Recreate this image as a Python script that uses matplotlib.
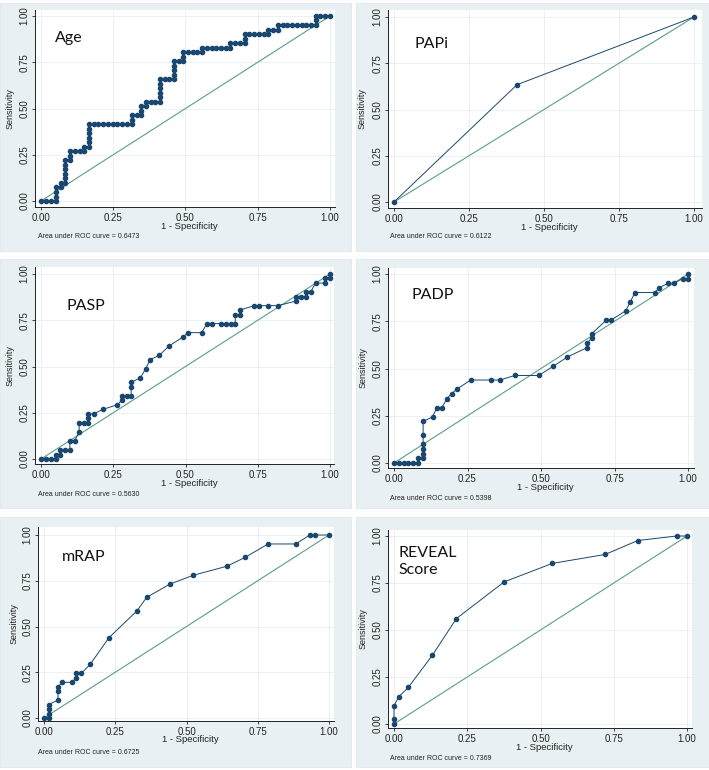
import matplotlib.pyplot as plt
from matplotlib.patches import Rectangle

W, H = 709, 770

# ROC points (1 - specificity, sensitivity)
age_fpr = [0, .017, .035, .053, .053, .053, .053, .068, .068, .084, .084, .084, .084, .084, .084,
           .100, .100, .100, .118, .135, .150, .150, .165, .165, .165, .165, .165, .165,
           .182, .198, .215, .231, .248, .264, .280, .297, .315, .315, .315, .331, .347, .347, .347,
           .363, .363, .380, .396, .412, .412, .412, .412, .412, .412, .428, .444, .460, .460, .460,
           .460, .460, .476, .492, .492, .492, .508, .525, .541, .557, .557, .573, .590, .606, .622,
           .639, .655, .655, .672, .688, .705, .705, .705, .721, .738, .754, .770, .787, .787, .803,
           .820, .820, .836, .852, .869, .885, .902, .918, .934, .951, .951, .951, .967, .984, 1.0]
age_tpr = [0, 0, 0, 0, .024, .049, .073, .073, .098, .098, .122, .146, .171, .195, .220,
           .220, .244, .268, .268, .268, .268, .293, .293, .317, .341, .366, .390, .415,
           .415, .415, .415, .415, .415, .415, .415, .415, .415, .439, .463, .463, .463, .488, .512,
           .512, .537, .537, .537, .537, .561, .585, .610, .634, .659, .659, .659, .659, .683, .707,
           .732, .756, .756, .756, .780, .805, .805, .805, .805, .805, .829, .829, .829, .829, .829,
           .829, .829, .854, .854, .854, .854, .878, .902, .902, .902, .902, .902, .902, .927, .927,
           .927, .951, .951, .951, .951, .951, .951, .951, .951, .951, .976, 1.0, 1.0, 1.0, 1.0]

papi_fpr = [0, 0.41, 1.0]
papi_tpr = [0, 0.634, 1.0]

pasp_fpr = [0, .017, .035, .052, .052, .067, .067, .084, .100, .100, .116, .132, .132, .148, .164,
            .164, .164, .182, .214, .263, .280, .280, .297, .312, .312, .312, .344, .362, .378,
            .410, .442, .491, .508, .556, .574, .590, .623, .639, .656, .672, .672, .688, .688,
            .738, .755, .787, .820, .883, .883, .900, .916, .916, .933, .950, .983, .983, 1.0, 1.0]
pasp_tpr = [0, 0, 0, 0, .024, .024, .049, .049, .049, .098, .098, .146, .195, .195, .195,
            .220, .244, .244, .268, .293, .317, .341, .341, .341, .390, .415, .439, .488, .537,
            .561, .610, .659, .683, .683, .732, .732, .732, .732, .732, .732, .780, .780, .805,
            .829, .829, .829, .829, .854, .878, .878, .878, .902, .902, .951, .951, .976, .976, 1.0]

padp_fpr = [0, .016, .033, .049, .066, .082, .082, .099, .099, .099, .099, .099, .099, .131,
            .146, .163, .180, .196, .213, .261, .329, .361, .410, .492, .542, .590, .656, .656,
            .672, .672, .722, .738, .788, .804, .820, .887, .902, .933, .951, .983, 1.0, 1.0]
padp_tpr = [0, 0, 0, 0, 0, 0, .024, .024, .049, .073, .098, .146, .220, .244,
            .293, .293, .341, .366, .390, .439, .439, .439, .463, .463, .512, .561, .610, .634,
            .659, .683, .756, .756, .805, .854, .902, .902, .927, .951, .951, .976, .976, 1.0]

mrap_fpr = [0, .016, .016, .016, .016, .049, .049, .049, .064, .097, .114, .114, .131, .162,
            .228, .326, .360, .442, .524, .641, .706, .786, .883, .933, .951, 1.0]
mrap_tpr = [0, 0, .024, .049, .073, .098, .146, .171, .195, .195, .220, .244, .244, .293,
            .439, .585, .659, .732, .780, .829, .878, .951, .951, 1.0, 1.0, 1.0]

reveal_fpr = [0, 0, 0, .017, .049, .131, .213, .376, .540, .721, .832, .965, 1.0]
reveal_tpr = [0, .024, .098, .146, .195, .366, .561, .756, .854, .902, .976, 1.0, 1.0]

titles = ["Age", "PAPi", "PASP", "PADP", "mRAP", "REVEAL\nScore"]
auc = ["0.6473", "0.6122", "0.5630", "0.5398", "0.6725", "0.7369"]
curves = [(age_fpr, age_tpr), (papi_fpr, papi_tpr), (pasp_fpr, pasp_tpr),
          (padp_fpr, padp_tpr), (mrap_fpr, mrap_tpr), (reveal_fpr, reveal_tpr)]

# layout in pixels: panel box, axes box, pixel of data 0/1 on each axis
panels = [(0, 3, 351, 251), (356, 3, 709, 251), (0, 259, 351, 508),
          (356, 259, 709, 508), (0, 517, 351, 767), (356, 517, 709, 767)]
axboxes = [(35, 10, 335, 207), (388, 10, 702, 208), (35, 267, 334, 464),
           (388, 268, 694, 468), (38, 527, 334, 721), (388, 530, 692, 728)]
dataref = [(41, 330, 201, 16), (394, 694, 202, 17), (41, 330, 459, 274),
           (394, 688, 463, 274), (44, 329, 718, 535), (394, 687, 724, 536)]
title_pos = [(0.048, 0.88), (0.067, 0.853), (0.088, 0.825), (0.059, 0.889), (0.063, 0.881), (0.017, 0.864)]
auc_pos = [(38, 237), (390, 237), (38, 494), (390, 498), (38, 752), (390, 758)]

navy = '#1a476f'
green = '#5a9e86'
bg = '#e9f0f3'

fig = plt.figure(figsize=(W / 100, H / 100), dpi=100)
fig.patch.set_facecolor('white')

for i in range(6):
    px0, py0, px1, py1 = panels[i]
    fig.add_artist(Rectangle((px0 / W, 1 - py1 / H), (px1 - px0) / W, (py1 - py0) / H,
                             transform=fig.transFigure, facecolor=bg, edgecolor='#dde6ea', lw=0.5, zorder=0))

    L, T, R, B = axboxes[i]
    x0, x1, y0, y1 = dataref[i]
    ax = fig.add_axes([L / W, 1 - B / H, (R - L) / W, (B - T) / H])
    ax.set_facecolor('white')
    ax.set_xlim((L - x0) / (x1 - x0), (R - x0) / (x1 - x0))
    ax.set_ylim((y0 - B) / (y0 - y1), (y0 - T) / (y0 - y1))

    ax.plot([0, 1], [0, 1], color=green, lw=0.8, zorder=2)
    fpr, tpr = curves[i]
    ax.plot(fpr, tpr, color=navy, lw=0.7, marker='o', ms=3.0, mfc=navy, mec=navy, zorder=3)

    ticks = [0, 0.25, 0.5, 0.75, 1.0]
    ax.set_xticks(ticks)
    ax.set_yticks(ticks)
    ax.set_xticklabels(["0.00", "0.25", "0.50", "0.75", "1.00"], fontsize=7, family='Liberation Sans')
    ax.set_yticklabels(["0.00", "0.25", "0.50", "0.75", "1.00"], fontsize=7, family='Liberation Sans',
                       rotation=90, va='center')
    ax.tick_params(length=2.5, width=0.6, pad=1.5, colors='#222222')
    ax.grid(color='#e6eef1', lw=0.6, zorder=1)
    ax.set_axisbelow(True)
    for s in ['top', 'right']:
        ax.spines[s].set_visible(False)
    for s in ['left', 'bottom']:
        ax.spines[s].set_linewidth(0.7)
        ax.spines[s].set_color('#222222')

    ax.set_ylabel("Sensitivity", fontsize=6.5, family='Liberation Sans', color='#222222')
    ax.yaxis.set_label_coords(-0.067, 0.5)
    ax.set_xlabel("1 - Specificity", fontsize=6.8, family='Liberation Sans', color='#222222', va='center')
    ax.xaxis.set_label_coords(0.515, -0.097)

    tx, ty = title_pos[i]
    ax.text(tx, ty, titles[i], fontsize=11.5, family='Lato', va='center', ha='left',
            color='#111111', linespacing=1.3, zorder=4)

    ax_x, ax_y = auc_pos[i]
    fig.text(ax_x / W, 1 - ax_y / H, "Area under ROC curve = " + auc[i], fontsize=5.0,
             family='Liberation Sans', va='center', ha='left', color='#222222')

fig.savefig('out.png', dpi=100)
